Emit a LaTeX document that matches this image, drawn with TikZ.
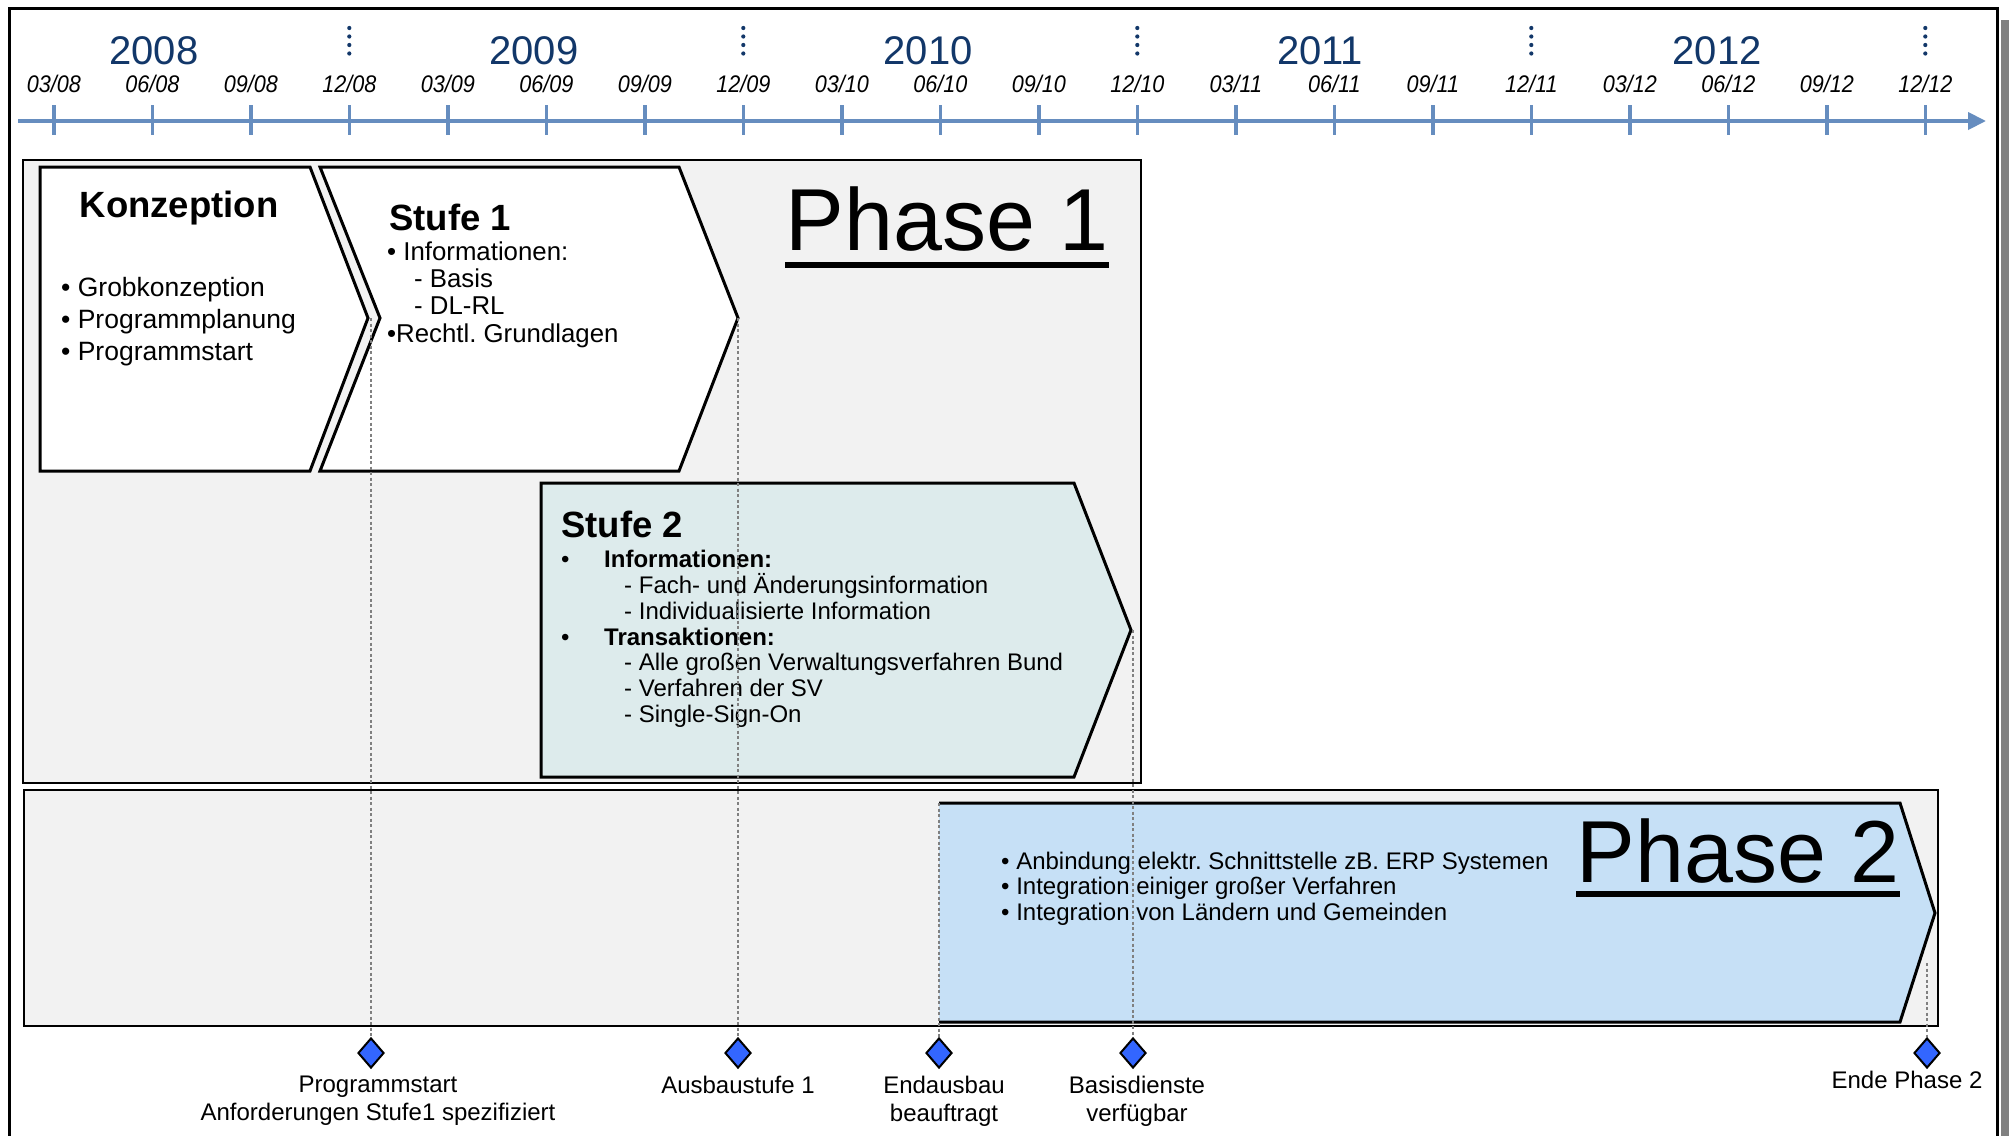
\documentclass[tikz,border=0pt]{standalone}
\usepackage{fontspec}
\setmainfont{Liberation Sans}
\newfontfamily\monthfont[FakeStretch=0.9]{Liberation Sans}
\usetikzlibrary{shapes.geometric,arrows.meta}
\definecolor{axisblue}{RGB}{102,141,191}
\definecolor{yearblue}{RGB}{18,55,105}
\definecolor{boxgray}{RGB}{242,242,242}
\definecolor{tealfill}{RGB}{221,235,236}
\definecolor{ptwofill}{RGB}{198,224,246}
\definecolor{msblue}{RGB}{51,102,255}
\definecolor{dotgray}{RGB}{128,128,128}
\tikzset{
  chev/.style={draw=black,line width=3pt,line join=miter},
  phasebox/.style={draw=black,line width=2.5pt,fill=boxgray},
  txt/.style={anchor=base west,inner sep=0pt,font=\fontsize{24}{26}\selectfont},
  ktxt/.style={anchor=base west,inner sep=0pt,font=\fontsize{26.5}{30}\selectfont},
  stxt/.style={anchor=base west,inner sep=0pt,font=\fontsize{25.8}{28}\selectfont},
  ttl/.style={inner sep=0pt,font=\fontsize{36.5}{40}\selectfont\bfseries},
  bigttl/.style={anchor=base,inner sep=0pt,font=\fontsize{88}{92}\selectfont},
  monthlbl/.style={anchor=base,inner sep=0pt,font=\fontsize{24}{26}\monthfont\itshape},
  yearlbl/.style={anchor=base,inner sep=0pt,text=yearblue,font=\fontsize{40}{44}\selectfont},
  tickline/.style={draw=axisblue,line width=3.5pt},
  msnode/.style={diamond,draw=black,fill=msblue,line width=2pt,minimum width=26pt,minimum height=30pt,inner sep=0pt},
  msline/.style={draw=dotgray,line width=2.5pt,dash pattern=on 3pt off 2.5pt},
  mslbl/.style={anchor=north,inner sep=0pt,align=center,font=\fontsize{24}{28}\selectfont},
}
\begin{document}
\begin{tikzpicture}[x=1pt,y=-1pt]
\useasboundingbox (0,0) rectangle (2009,1135);
% outer frame with shadow
\fill[dotgray] (2001,20) rectangle (2009,1140);
\draw[line width=3pt] (9,1140) -- (9,8) -- (1997,8) -- (1997,1140);

% time axis
\coordinate (ax0) at (18,121);
\coordinate (ax1) at (1986,121);
\draw[draw=axisblue,line width=4pt,-{Triangle[length=18pt,width=17pt]}] (ax0) -- (ax1);
\foreach \lab [count=\i from 0] in {03/08,06/08,09/08,12/08,03/09,06/09,09/09,12/09,03/10,06/10,09/10,12/10,03/11,06/11,09/11,12/11,03/12,06/12,09/12,12/12}{
  \draw[tickline] ({53.8+98.5*\i},105) -- ({53.8+98.5*\i},135);
  \node[monthlbl] (ml\i) at ({53.8+98.5*\i},92) {\lab};
}
\foreach \i in {3,7,11,15,19}{
  \foreach \yy in {28,36.5,45,53.5}{
    \fill[yearblue] ({53.8+98.5*\i},\yy) circle (2.1pt);
  }
}
\node[yearlbl] (y2008) at (154,64) {2008};
\node[yearlbl] (y2009) at (534,64) {2009};
\node[yearlbl] (y2010) at (928,64) {2010};
\node[yearlbl] (y2011) at (1320,64) {2011};
\node[yearlbl] (y2012) at (1717,64) {2012};

% phase boxes
\draw[phasebox] (23,160) rectangle (1141,783);
\draw[phasebox] (24,790) rectangle (1938,1026);

% Konzeption
\draw[chev,fill=white] (40,167) -- (310,167) -- (368,318) -- (310,471) -- (40,471) -- cycle;
\node[ttl,anchor=base] (kt) at (179,217) {Konzeption};
\node[ktxt] (k1) at (61,296) {• Grobkonzeption};
\node[ktxt] (k2) at (61,328) {• Programmplanung};
\node[ktxt] (k3) at (61,360) {• Programmstart};

% Stufe 1
\draw[chev,fill=white] (320,167) -- (679,167) -- (738,318) -- (679,471) -- (320,471) -- (380,318) -- cycle;
\node[ttl,anchor=base west] (s1t) at (389,230) {Stufe 1};
\node[stxt] (s1a) at (387,260) {• Informationen:};
\node[stxt] (s1b) at (414,287) {- Basis};
\node[stxt] (s1c) at (414,314) {- DL-RL};
\node[stxt] (s1d) at (387,342) {•Rechtl.\ Grundlagen};

% Phase 1 title
\node[bigttl] (ph1) at (947,250) {Phase 1};
\draw[line width=6pt] ([yshift=-15pt]ph1.base west) -- ([yshift=-15pt]ph1.base east);

% Stufe 2
\draw[chev,fill=tealfill] (541,483) -- (1074,483) -- (1131,630) -- (1074,777) -- (541,777) -- cycle;
\node[ttl,anchor=base west] (s2t) at (561,537) {Stufe 2};
\node[txt] (s2b1) at (561,567) {•};
\node[txt,font=\fontsize{24}{26}\selectfont\bfseries] (s2a) at (604,567) {Informationen:};
\node[txt] (s2c) at (624,593) {- Fach- und Änderungsinformation};
\node[txt] (s2d) at (624,619) {- Individualisierte Information};
\node[txt] (s2b2) at (561,645) {•};
\node[txt,font=\fontsize{24}{26}\selectfont\bfseries] (s2e) at (604,645) {Transaktionen:};
\node[txt] (s2f) at (624,670) {- Alle großen Verwaltungsverfahren Bund};
\node[txt] (s2g) at (624,696) {- Verfahren der SV};
\node[txt] (s2h) at (624,722) {- Single-Sign-On};

% Phase 2 chevron
\fill[ptwofill] (939,803) -- (1900,803) -- (1935,913) -- (1900,1022) -- (939,1022) -- cycle;
\draw[chev] (939,803) -- (1900,803) -- (1935,913) -- (1900,1022) -- (939,1022);
\node[txt] (p2a) at (1001,869) {• Anbindung elektr.\ Schnittstelle zB.\ ERP Systemen};
\node[txt] (p2b) at (1001,894) {• Integration einiger großer Verfahren};
\node[txt] (p2c) at (1001,920) {• Integration von Ländern und Gemeinden};
\node[bigttl] (ph2) at (1738,882) {Phase 2};
\draw[line width=6pt] ([yshift=-12pt]ph2.base west) -- ([yshift=-12pt]ph2.base east);

% milestones
\node[msnode] (m1) at (371,1053) {};
\node[msnode] (m2) at (738,1053) {};
\node[msnode] (m3) at (939,1053) {};
\node[msnode] (m4) at (1133,1053) {};
\node[msnode] (m5) at (1927,1053) {};
\coordinate (c1) at (371,318);
\coordinate (c2) at (738,318);
\coordinate (c3) at (939,803);
\coordinate (c4) at (1133,630);
\coordinate (c5) at (1927,963);
\draw[msline] (c1) -- (m1.north);
\draw[msline] (c2) -- (m2.north);
\draw[msline] (c3) -- (m3.north);
\draw[msline] (c4) -- (m4.north);
\draw[msline] (c5) -- (m5.north);

\node[mslbl] (l1) at (378,1076) {Programmstart\\Anforderungen Stufe1 spezifiziert};
\node[mslbl] (l2) at (738,1076) {Ausbaustufe 1};
\node[mslbl] (l3) at (944,1076) {Endausbau\\beauftragt};
\node[mslbl] (l4) at (1137,1076) {Basisdienste\\verfügbar};
\node[mslbl] (l5) at (1907,1071) {Ende Phase 2};
\end{tikzpicture}
\end{document}
